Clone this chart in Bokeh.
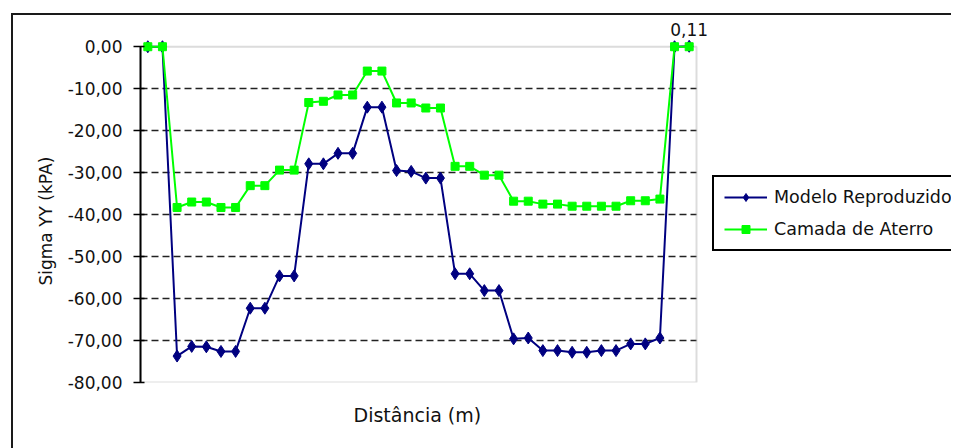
from bokeh.plotting import figure
from bokeh.models import (FixedTicker, CustomJSTickFormatter, BoxAnnotation, Label, Range1d,
                          Legend, LegendItem, Title, InlineStyleSheet)
from bokeh.embed import file_html
from bokeh.resources import INLINE

# ---- data ----
pontos = list(range(1, 39))
modelo = [0.00, 0.00, -73.7, -71.4, -71.5, -72.6, -72.6, -62.3, -62.3, -54.6, -54.6,
          -27.9, -27.9, -25.4, -25.4, -14.4, -14.4, -29.5, -29.7, -31.3, -31.3,
          -54.1, -54.1, -58.1, -58.1, -69.6, -69.4, -72.4, -72.4, -72.8, -72.8,
          -72.4, -72.4, -70.8, -70.8, -69.4, 0.00, 0.11]
aterro = [0.00, 0.00, -38.3, -37.0, -37.0, -38.3, -38.3, -33.1, -33.1, -29.4, -29.4,
          -13.3, -13.0, -11.5, -11.5, -5.8, -5.8, -13.4, -13.4, -14.6, -14.6,
          -28.5, -28.5, -30.6, -30.6, -36.8, -36.8, -37.5, -37.5, -38.0, -38.0,
          -38.0, -38.0, -36.7, -36.7, -36.3, 0.00, 0.00]
y_ticks = [0, -10, -20, -30, -40, -50, -60, -70, -80]
grid_ticks = [-10, -20, -30, -40, -50, -60, -70]
serie_nomes = ["Modelo Reproduzido", "Camada de Aterro"]
eixo_y_titulo = "Sigma YY (kPA)"
eixo_x_titulo = "Distância (m)"

FONT = "DejaVu Sans"
W, H = 951, 448
area_left, area_right = 140, 696       # plot-area edges in pixels
x_ini = 0.5
x_fim = len(pontos) + 0.5
x_view_end = x_ini + (x_fim - x_ini) * (W - area_left) / (area_right - area_left)
y_min = -80
y_top = 0
y_view_top = 7.2   # head-room above the plot area for the data label

outer_css = InlineStyleSheet(css=""":host {
  background-image: linear-gradient(#1a1a1a,#1a1a1a), linear-gradient(#1a1a1a,#1a1a1a);
  background-position: 11px 13px, 11px 13px;
  background-size: 2px 3000px, 3000px 2px;
  background-repeat: no-repeat, no-repeat;
  background-attachment: fixed, fixed;
}""")

p = figure(width=W, height=H, output_backend="svg", toolbar_location=None,
           x_range=Range1d(x_ini, x_view_end), y_range=Range1d(y_min, y_view_top),
           min_border_left=area_left, min_border_right=0, min_border_top=16, min_border_bottom=66,
           background_fill_color="white", border_fill_color=None, outline_line_color=None,
           stylesheets=[outer_css])

# plot area border
area = BoxAnnotation(left=x_ini, right=x_fim, top=y_top, bottom=y_min,
                     fill_color=None, line_color="#8c8c8c", line_width=2, level="underlay")
p.add_layout(area)

# y axis
p.yaxis.bounds = (y_min, y_top)
p.yaxis.ticker = FixedTicker(ticks=y_ticks)
p.yaxis.formatter = CustomJSTickFormatter(code="return tick.toFixed(2).replace('.', ',');")
p.yaxis.axis_line_color = "black"
p.yaxis.axis_line_width = 2
p.yaxis.major_tick_out = 7
p.yaxis.major_tick_in = 4
p.yaxis.major_tick_line_width = 1.5
p.yaxis.major_tick_line_color = "black"
p.yaxis.minor_tick_line_color = None
p.yaxis.major_label_text_font = FONT
p.yaxis.major_label_text_font_size = "17px"
p.yaxis.major_label_text_color = "#111111"
p.yaxis.major_label_standoff = 11

p.add_layout(Title(text=eixo_y_titulo, align="left", offset=97, standoff=17,
                   text_font=FONT, text_font_size="17px", text_font_style="normal",
                   text_color="#111111"), "left")

# x axis (no ticks) + title
p.xaxis.visible = False
p.add_layout(Title(text=eixo_x_titulo, align="left", offset=213, standoff=38,
                   text_font=FONT, text_font_size="19px", text_font_style="normal",
                   text_color="#111111"), "below")

p.xgrid.visible = False
p.ygrid.ticker = FixedTicker(ticks=grid_ticks)
p.ygrid.cross_bounds = (x_ini, x_fim)
p.ygrid.grid_line_color = "#222222"
p.ygrid.grid_line_dash = "7 4"
p.ygrid.grid_line_width = 1.5

# series
l1 = p.line(pontos, modelo, color="#000080", line_width=2)
s1 = p.scatter(pontos, modelo, marker="diamond", size=12, color="#000080")
l2 = p.line(pontos, aterro, color="#00ff00", line_width=2)
s2 = p.scatter(pontos, aterro, marker="square", size=8, color="#00ff00")

# data label
lbl = Label(x=pontos[-1], y=modelo[-1], text=f"{modelo[-1]:.2f}".replace(".", ","),
            text_align="center", text_baseline="alphabetic", y_offset=17,
            text_font=FONT, text_font_size="17px", text_color="#111111")
p.add_layout(lbl)

# legend
lg = Legend(items=[LegendItem(label=serie_nomes[0], renderers=[l1, s1]),
                   LegendItem(label=serie_nomes[1], renderers=[l2, s2])],
            location=(area_right - area_left + 16, 131), margin=0, padding=10, spacing=12,
            glyph_width=43, glyph_height=20, label_height=20, label_standoff=7,
            label_text_font=FONT, label_text_font_size="17.5px", label_text_color="#111111",
            border_line_color="black", border_line_width=2, border_line_alpha=1.0,
            background_fill_color="white", background_fill_alpha=1.0)
p.add_layout(lg)

open("out.html", "w").write(file_html(p, INLINE))
